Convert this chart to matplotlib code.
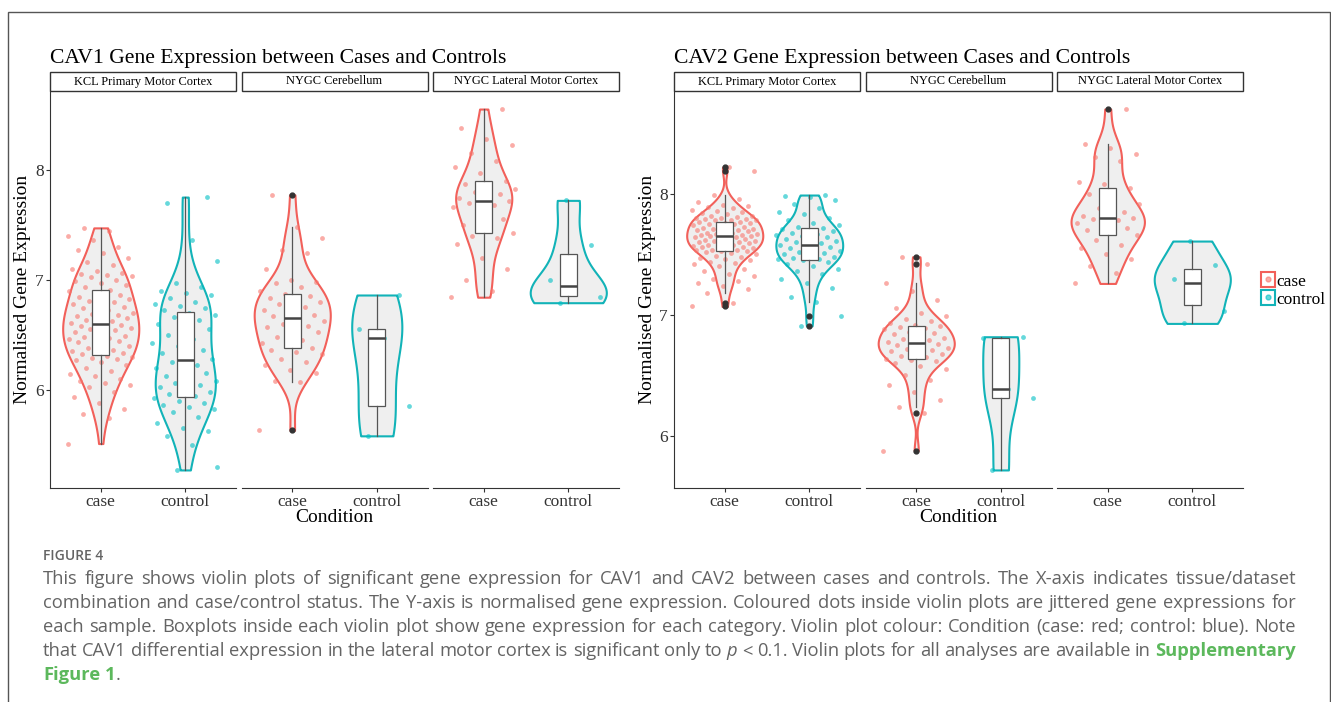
import re
import numpy as np
import matplotlib
import matplotlib.pyplot as plt
from matplotlib.patches import Rectangle, Patch
from matplotlib.lines import Line2D
matplotlib.use('Agg')

W, H = 1331, 702

CONDITIONS = ["case", "control"]
TISSUES = ["KCL Primary Motor Cortex", "NYGC Cerebellum", "NYGC Lateral Motor Cortex"]

# CAV1 expression (case, control per tissue)
cav1_kcl_case = [5.51, 5.74, 5.78, 5.82, 5.88, 5.93, 5.98, 6.02, 6.04, 6.06, 6.08, 6.10,
                 6.12, 6.14, 6.17, 6.20, 6.22, 6.25, 6.27, 6.28, 6.29, 6.30, 6.31, 6.32,
                 6.33, 6.34, 6.35, 6.36, 6.38, 6.40, 6.41, 6.43, 6.44, 6.45, 6.46, 6.47,
                 6.48, 6.49, 6.50, 6.52, 6.54, 6.55, 6.56, 6.57, 6.58, 6.59, 6.60, 6.61,
                 6.62, 6.63, 6.65, 6.66, 6.67, 6.68, 6.69, 6.70, 6.72, 6.74, 6.75, 6.77,
                 6.78, 6.80, 6.81, 6.82, 6.83, 6.84, 6.86, 6.88, 6.90, 6.91, 6.93, 6.95,
                 6.97, 6.99, 7.00, 7.02, 7.03, 7.04, 7.05, 7.06, 7.08, 7.10, 7.13, 7.16,
                 7.20, 7.24, 7.27, 7.30, 7.36, 7.40, 7.44, 7.47]
cav1_kcl_control = [5.27, 5.30, 5.50, 5.58, 5.62, 5.65, 5.70, 5.75, 5.80, 5.82, 5.84, 5.86,
                    5.88, 5.90, 5.92, 5.94, 5.96, 5.98, 6.00, 6.02, 6.04, 6.06, 6.08, 6.10,
                    6.12, 6.15, 6.17, 6.20, 6.22, 6.25, 6.28, 6.30, 6.33, 6.36, 6.40, 6.42,
                    6.46, 6.50, 6.55, 6.58, 6.60, 6.63, 6.66, 6.68, 6.70, 6.72, 6.74, 6.76,
                    6.78, 6.80, 6.83, 6.86, 6.88, 6.90, 6.93, 6.97, 7.17, 7.36, 7.70, 7.75]
cav1_cer_case = [5.63, 6.07, 6.08, 6.15, 6.18, 6.22, 6.25, 6.28, 6.32, 6.34, 6.36, 6.38,
                 6.40, 6.42, 6.45, 6.48, 6.52, 6.55, 6.57, 6.58, 6.60, 6.62, 6.65, 6.67,
                 6.68, 6.70, 6.72, 6.75, 6.78, 6.80, 6.82, 6.83, 6.85, 6.87, 6.90, 6.93,
                 6.97, 6.98, 7.00, 7.10, 7.24, 7.27, 7.38, 7.48, 7.77]
cav1_cer_control = [5.58, 5.85, 6.47, 6.55, 6.86]
cav1_lat_case = [6.84, 6.90, 7.00, 7.10, 7.20, 7.32, 7.38, 7.40, 7.42, 7.45, 7.50, 7.55,
                 7.60, 7.66, 7.68, 7.70, 7.71, 7.72, 7.74, 7.78, 7.80, 7.82, 7.85, 7.87,
                 7.90, 7.97, 8.02, 8.08, 8.15, 8.22, 8.28, 8.38, 8.55]
cav1_lat_control = [6.79, 6.84, 6.88, 7.00, 7.31, 7.72]

# CAV2 expression
cav2_kcl_case = [7.07, 7.10, 7.18, 7.21, 7.24, 7.26, 7.28, 7.30, 7.32, 7.34, 7.36, 7.38,
                 7.40, 7.42, 7.43, 7.44, 7.45, 7.46, 7.47, 7.48, 7.49, 7.50, 7.51, 7.52,
                 7.53, 7.53, 7.54, 7.54, 7.54, 7.55, 7.55, 7.56, 7.56, 7.57, 7.57, 7.58,
                 7.58, 7.59, 7.59, 7.60, 7.60, 7.61, 7.61, 7.62, 7.62, 7.63, 7.63, 7.64,
                 7.64, 7.65, 7.65, 7.66, 7.66, 7.66, 7.67, 7.67, 7.68, 7.68, 7.69, 7.69,
                 7.70, 7.70, 7.71, 7.71, 7.72, 7.72, 7.73, 7.74, 7.74, 7.75, 7.75, 7.76,
                 7.76, 7.77, 7.77, 7.78, 7.78, 7.78, 7.79, 7.79, 7.80, 7.80, 7.81, 7.82,
                 7.82, 7.83, 7.84, 7.85, 7.86, 7.87, 7.88, 7.89, 7.90, 7.91, 7.93, 7.96,
                 7.99, 8.19, 8.22]
cav2_kcl_control = [6.91, 6.99, 7.11, 7.15, 7.22, 7.26, 7.30, 7.34, 7.36, 7.38, 7.40, 7.42,
                    7.44, 7.45, 7.46, 7.46, 7.47, 7.48, 7.49, 7.50, 7.51, 7.52, 7.53, 7.54,
                    7.55, 7.56, 7.57, 7.58, 7.59, 7.60, 7.61, 7.62, 7.63, 7.64, 7.65, 7.66,
                    7.67, 7.68, 7.69, 7.70, 7.71, 7.72, 7.73, 7.74, 7.76, 7.78, 7.80, 7.83,
                    7.85, 7.88, 7.92, 7.95, 7.97, 7.98, 7.99]
cav2_cer_case = [5.88, 6.19, 6.24, 6.30, 6.36, 6.42, 6.46, 6.50, 6.55, 6.58, 6.60, 6.62,
                 6.63, 6.64, 6.65, 6.66, 6.68, 6.69, 6.70, 6.71, 6.72, 6.73, 6.74, 6.75,
                 6.76, 6.77, 6.78, 6.79, 6.80, 6.81, 6.83, 6.84, 6.85, 6.86, 6.88, 6.89,
                 6.90, 6.91, 6.92, 6.93, 6.95, 6.97, 6.99, 7.02, 7.06, 7.12, 7.20, 7.26,
                 7.42, 7.48]
cav2_cer_control = [5.72, 6.31, 6.39, 6.81, 6.82]
cav2_lat_case = [7.26, 7.35, 7.40, 7.46, 7.50, 7.55, 7.58, 7.62, 7.66, 7.68, 7.70, 7.72,
                 7.74, 7.76, 7.78, 7.79, 7.80, 7.81, 7.82, 7.85, 7.88, 7.92, 7.96, 8.00,
                 8.05, 8.08, 8.10, 8.27, 8.30, 8.33, 8.38, 8.41, 8.70]
cav2_lat_control = [6.93, 7.03, 7.23, 7.30, 7.41, 7.61]

CAV1 = [(cav1_kcl_case, cav1_kcl_control), (cav1_cer_case, cav1_cer_control),
        (cav1_lat_case, cav1_lat_control)]
CAV2 = [(cav2_kcl_case, cav2_kcl_control), (cav2_cer_case, cav2_cer_control),
        (cav2_lat_case, cav2_lat_control)]

COLORS = ["#F8766D", "#00BFC4"]
LINE_COLORS = ["#F2605A", "#12B3B8"]
SERIF = ["Liberation Serif", "DejaVu Serif"]
SANS = ["Open Sans", "DejaVu Sans"]

CAPTION = [
    "This figure shows violin plots of significant gene expression for CAV1 and CAV2 between cases and controls. The X-axis indicates tissue/dataset",
    "combination and case/control status. The Y-axis is normalised gene expression. Coloured dots inside violin plots are jittered gene expressions for",
    "each sample. Boxplots inside each violin plot show gene expression for each category. Violin plot colour: Condition (case: red; control: blue). Note",
    "that CAV1 differential expression in the lateral motor cortex is significant only to {p} < 0.1. Violin plots for all analyses are available in [Supplementary]",
    "[Figure] [1].",
]

fig = plt.figure(figsize=(W / 100, H / 100), dpi=100)


def nrd0(v):
    q75, q25 = np.percentile(v, [75, 25])
    lo = min(np.std(v, ddof=1), (q75 - q25) / 1.34)
    return 0.9 * lo * len(v) ** -0.2


def draw_gene(title, data, x_left, ylabel_x):
    allv = np.concatenate([np.asarray(a) for pair in data for a in pair])
    pad = 0.05 * (allv.max() - allv.min())
    ylim = (allv.min() - pad, allv.max() + pad)
    for i, (tissue, pair) in enumerate(zip(TISSUES, data)):
        x0 = x_left + i * 191.5
        ax = fig.add_axes([x0 / W, 1 - 488 / H, 186 / W, 397 / H])
        dens = []
        for vals in pair:
            v = np.asarray(vals)
            bw = nrd0(v)
            g = np.linspace(v.min(), v.max(), 512)
            d = np.exp(-0.5 * ((g[:, None] - v[None, :]) / bw) ** 2).sum(1)
            d /= len(v) * bw * np.sqrt(2 * np.pi)
            dens.append((g, d))
        dmax = max(d.max() for g, d in dens)
        for j, (vals, (g, d)) in enumerate(zip(pair, dens)):
            pos = j + 1
            hw = 0.45 * d / dmax
            ax.fill_betweenx(g, pos - hw, pos + hw, facecolor="#EFEFEF",
                             edgecolor=LINE_COLORS[j], linewidth=1.5, zorder=1)
            k = np.arange(len(vals))
            off = ((k * 0.6180339887 + 0.37 * j) % 1 - 0.5) * 0.78
            ax.scatter(pos + off, vals, s=12, color=COLORS[j], alpha=0.6,
                       linewidths=0, zorder=2)
            ax.boxplot([vals], positions=[pos], widths=0.2, patch_artist=True,
                       showcaps=False, manage_ticks=False, zorder=3,
                       boxprops=dict(facecolor="white", edgecolor="#555555", linewidth=0.9),
                       whiskerprops=dict(color="#555555", linewidth=0.9),
                       medianprops=dict(color="#444444", linewidth=1.8),
                       flierprops=dict(marker="o", markerfacecolor="#333333",
                                       markeredgecolor="#333333", markersize=3.5))
        ax.set_xlim(0.4, 2.6)
        ax.set_ylim(ylim)
        ax.set_xticks([1, 2])
        ax.set_xticklabels(CONDITIONS, fontsize=12.5, family=SERIF)
        ax.set_yticks([6, 7, 8])
        ax.set_yticklabels(["6", "7", "8"], fontsize=12.5, family=SERIF)
        ax.tick_params(length=3, width=0.8, color="#333333", labelcolor="#333333", pad=1.5)
        for s in ("top", "right"):
            ax.spines[s].set_visible(False)
        ax.spines["bottom"].set_color("#333333")
        ax.spines["left"].set_color("#333333")
        if i > 0:
            ax.spines["left"].set_visible(False)
            ax.tick_params(axis="y", left=False, labelleft=False)
        sh = 19 / 397
        ax.add_patch(Rectangle((0, 1), 1, sh, transform=ax.transAxes, clip_on=False,
                               facecolor="white", edgecolor="#333333", linewidth=1))
        ax.text(0.5, 1 + sh / 2, tissue, transform=ax.transAxes, ha="center", va="center",
                fontsize=8.9, family=SERIF)
    fig.text(x_left / W, 1 - 62.7 / H, title, fontsize=15.6, family=SERIF, va="baseline")
    fig.text(ylabel_x / W, 1 - 289.5 / H, "Normalised Gene Expression", rotation=90,
             ha="center", va="center", fontsize=14, family=SERIF)
    fig.text((x_left + 284.5) / W, 1 - 518 / H, "Condition", ha="center", va="center",
             fontsize=14, family=SERIF)


draw_gene("CAV1 Gene Expression between Cases and Controls", CAV1, 50, 23)
draw_gene("CAV2 Gene Expression between Cases and Controls", CAV2, 674, 648)

handles = [(Patch(facecolor="white", edgecolor=c, linewidth=1.5),
            Line2D([], [], marker="o", linestyle="", color=p, alpha=0.6, markersize=3.5))
           for c, p in zip(LINE_COLORS, COLORS)]
fig.legend(handles, CONDITIONS, loc="center left", bbox_to_anchor=(1252 / W, 1 - 290 / H),
           frameon=False, handlelength=0.85, handleheight=0.95, handletextpad=0.05,
           labelspacing=0.05, borderpad=0, prop=dict(family=SERIF, size=12.5))

# frame round the figure and caption
fig.add_artist(Rectangle((8 / W, -0.02), 1322 / W, 1.02 - 12 / H, transform=fig.transFigure,
                         facecolor="none", edgecolor="#555555", linewidth=1))

GRAY = "#646464"
GREEN = "#5CB85C"
fig.text(43 / W, 1 - 560 / H, "FIGURE 4", fontsize=10, family=SANS, weight="semibold",
         color=GRAY, va="baseline")

renderer = fig.canvas.get_renderer()
X0, X1 = 43, 1296
FS = 13.2


def caption_line(text, y, justify):
    words = []
    total = 0
    for w in text.split(" "):
        parts = [p for p in re.split(r"(\[[^\]]*\]|\{[^}]*\})", w) if p]
        objs = []
        for p in parts:
            kw = dict(fontsize=FS, family=SANS, color=GRAY)
            if p.startswith("["):
                p = p[1:-1]
                kw.update(color=GREEN, weight="bold")
            elif p.startswith("{"):
                p = p[1:-1]
                kw.update(style="italic")
            t = fig.text(0, 1 - y / H, p, va="baseline", ha="left", **kw)
            wpx = t.get_window_extent(renderer).width
            objs.append((t, wpx))
            total += wpx
        words.append(objs)
    if justify:
        gap = (X1 - X0 - total) / (len(words) - 1)
    else:
        gap = 0.26 * FS * 100 / 72
    x = X0
    for objs in words:
        for t, wpx in objs:
            t.set_x(x / W)
            x += wpx
        x += gap


for n, line in enumerate(CAPTION):
    caption_line(line, 584 + 24.1 * n, n < len(CAPTION) - 1)

fig.savefig("out.png", dpi=100)
